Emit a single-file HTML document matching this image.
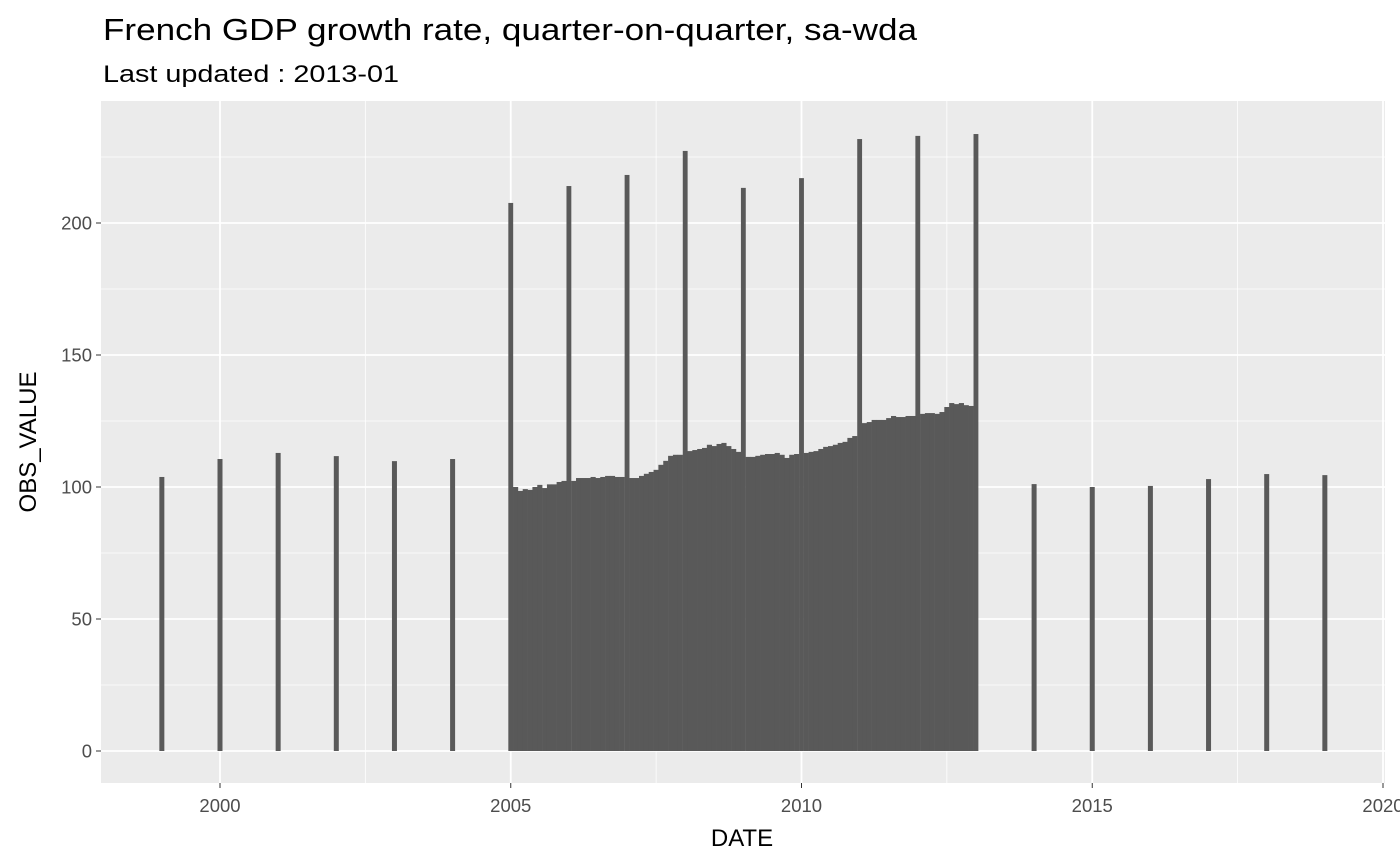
<!DOCTYPE html>
<html><head><meta charset="utf-8"><style>
html,body{margin:0;padding:0;background:#fff;}
svg{display:block;font-family:"Liberation Sans",Arial,sans-serif;}
</style></head><body>
<svg id="chart" width="1400" height="866">
<text x="103" y="40" font-size="31" fill="#000" textLength="814" lengthAdjust="spacingAndGlyphs">French GDP growth rate, quarter-on-quarter, sa-wda</text>
<text x="103" y="82" font-size="24" fill="#000" textLength="296" lengthAdjust="spacingAndGlyphs">Last updated : 2013-01</text>
<rect x="101" y="101" width="1284" height="682" fill="#EBEBEB"/>
<g id="grid"></g>
<g id="bars"></g>
<g id="axes"></g>
<text x="742" y="846" font-size="24" text-anchor="middle" fill="#000">DATE</text>
<text transform="translate(36,442) rotate(-90)" font-size="24" text-anchor="middle" fill="#000">OBS_VALUE</text>
</svg>
<script>
const annualYears = [1999,2000,2001,2002,2003,2004,2014,2015,2016,2017,2018,2019];
const annualValues = [103.8,110.6,112.9,111.7,109.8,110.6,101.1,100,100.4,103,104.9,104.5];
const januaryYears = [2005,2006,2007,2008,2009,2010,2011,2012,2013];
const januaryValues = [207.6,214,218.2,227.3,213.3,217,231.8,233,233.7];
const monthlyStartYear = 2005;
const monthlyValues = [
 [100,98.5,99.2,98.9,100,100.8,99.6,101,101,101.9,102.3],
 [102.3,103.4,103.4,103.4,103.8,103.4,103.8,104.2,104.2,103.8,103.8],
 [103.4,103.4,104.2,105,105.7,106.5,108.4,109.9,111.8,112.2,112.2],
 [113.6,114,114.4,114.8,116,115.5,116.3,116.7,115.5,114.4,113.3],
 [111.4,111.4,111.8,112.2,112.5,112.5,112.9,112.2,111,112.2,112.5],
 [112.9,113.3,113.6,114.4,115.2,115.5,116,116.7,117.1,118.6,119.3],
 [124.2,124.6,125.4,125.4,125.4,126.1,126.9,126.5,126.5,126.9,126.9],
 [127.7,128,128,127.7,128.4,130.3,131.8,131.4,131.8,131,130.7]
];
const xTicks = [2000,2005,2010,2015,2020];
const xMinor = [2002.5,2007.5,2012.5,2017.5];
const yTicks = [0,50,100,150,200];
const yMinor = [25,75,125,175,225];

const NS="http://www.w3.org/2000/svg";
const X0=101,X1=1385,Y0=101,Y1=783;
function xs(t){return 220+(t-2000)*58.15;}
function ys(v){return 751-v*2.64;}
const BW=4.85;
function mk(tag,attrs,parent){const e=document.createElementNS(NS,tag);for(const k in attrs)e.setAttribute(k,attrs[k]);parent.appendChild(e);return e;}
const grid=document.getElementById('grid'),bars=document.getElementById('bars'),axes=document.getElementById('axes');
yMinor.forEach(v=>{const l=mk('line',{x1:X0,x2:X1,y1:ys(v),y2:ys(v),stroke:'#fff','stroke-width':0.8},grid);

});
xMinor.forEach(v=>{const l=mk('line',{x1:xs(v),x2:xs(v),y1:Y0,y2:Y1,stroke:'#fff','stroke-width':0.8},grid);

});
yTicks.forEach(v=>{const l=mk('line',{x1:X0,x2:X1,y1:ys(v),y2:ys(v),stroke:'#fff','stroke-width':1.8},grid);


const tk=mk('line',{x1:X0-5,x2:X0,y1:ys(v),y2:ys(v),stroke:'#333','stroke-width':1},axes);


const t=mk('text',{x:X0-9,y:ys(v)+6.5,'font-size':18.5,'text-anchor':'end',fill:'#4D4D4D'},axes);t.textContent=v;

});
xTicks.forEach(v=>{const l=mk('line',{x1:xs(v),x2:xs(v),y1:Y0,y2:Y1,stroke:'#fff','stroke-width':1.8},grid);


const tk=mk('line',{x1:xs(v),x2:xs(v),y1:Y1,y2:Y1+5,stroke:'#333','stroke-width':1},axes);


const t=mk('text',{x:xs(v),y:Y1+29,'font-size':18.5,'text-anchor':'middle',fill:'#4D4D4D'},axes);t.textContent=v;

});
function bar(t,v,w){const r=mk('rect',{x:xs(t)-w/2,y:ys(v),width:w,height:ys(0)-ys(v),fill:'#595959'},bars);

}
annualYears.forEach((y,i)=>bar(y,annualValues[i],5));
monthlyValues.forEach((row,i)=>row.forEach((v,m)=>bar(monthlyStartYear+i+(m+1)/12,v,BW+0.3)));
januaryYears.forEach((y,i)=>bar(y,januaryValues[i],BW));
</script>
</body></html>
